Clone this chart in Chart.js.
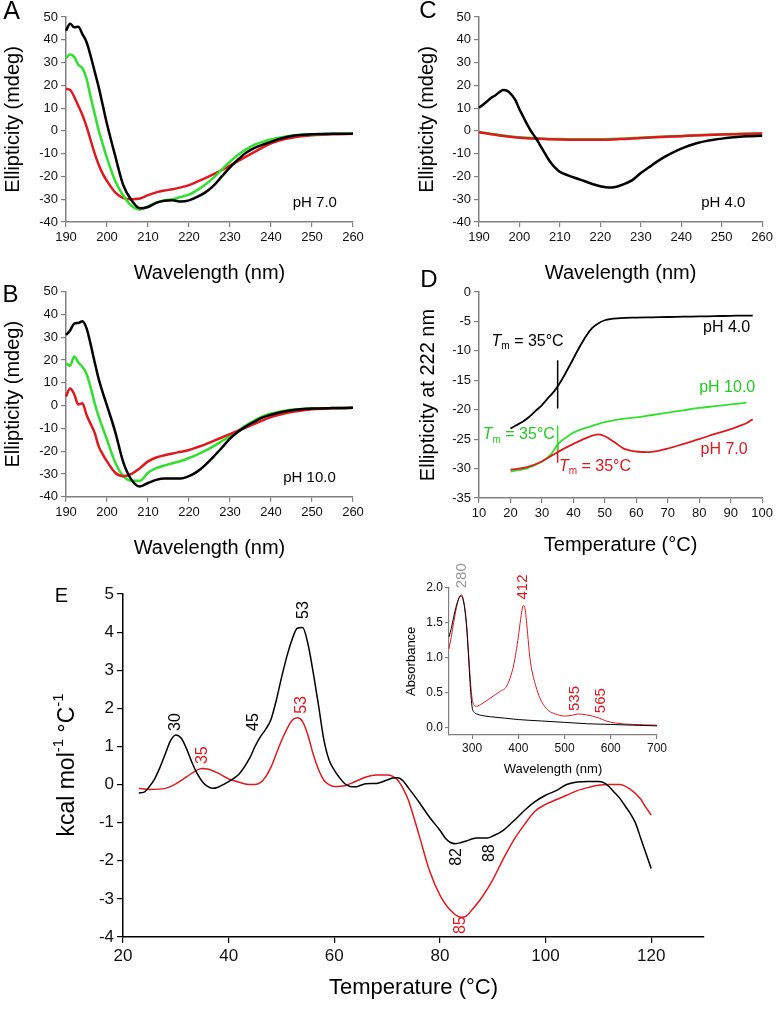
<!DOCTYPE html>
<html>
<head>
<meta charset="utf-8">
<script src="https://cdn.jsdelivr.net/npm/chart.js@4.4.1/dist/chart.umd.min.js"></script>
<style>
  body { margin: 0; background: #fff; }
  #wrap { position: relative; width: 776px; height: 1011px; overflow: hidden; }
  canvas { position: absolute; }
</style>
</head>
<body>
<div id="wrap">
  <canvas id="cA" width="375" height="285" style="left:0;top:0"></canvas>
  <canvas id="cB" width="375" height="295" style="left:0;top:265px"></canvas>
  <canvas id="cC" width="376" height="285" style="left:400px;top:0"></canvas>
  <canvas id="cD" width="376" height="292" style="left:400px;top:265px"></canvas>
  <canvas id="cE" width="776" height="441" style="left:0;top:560px"></canvas>
  <canvas id="cI" width="285" height="227" style="left:395px;top:550px"></canvas>
</div>
<script>
// ---- data ----
// CD spectra (panels A-C), wavelength in nm, ellipticity in mdeg
const wl = [190,191,192,193,194,195,196,197,198,199,200,202,204,206,208,210,212,214,216,218,220,222,224,226,228,230,232,234,236,238,240,242,245,250,255,260];
const aBlack = [44,47,45.5,45.7,42.5,39,33,26,19,11,3,-11,-24,-30.5,-34,-33.4,-31.6,-30.7,-30.5,-31,-30.5,-29,-27,-24,-20,-16,-12.5,-9.5,-7.5,-6,-4.8,-3.5,-2.2,-1.5,-1.3,-1.3];
const aGreen = [32,33.5,32.5,29,27.5,23,15,7.5,0,-6,-12,-22,-28.5,-33,-34.5,-33.2,-31.5,-30.5,-30,-29,-28,-26,-23.5,-20.5,-17,-13.5,-10.5,-8,-6,-4.8,-3.8,-3,-2.1,-1.5,-1.3,-1.2];
const aRed = [18.5,18,15,11,7,2,-4,-10,-15,-19,-22,-27,-29.5,-30,-29.7,-28.2,-27,-26.2,-25.6,-24.8,-23.8,-22.3,-20.7,-19,-17.2,-15.2,-13.2,-11.2,-9.2,-7.2,-5.5,-4.2,-3,-1.9,-1.5,-1.3];

const bBlack = [31,33,36,36.3,37,34,27,19,11.5,5.5,0,-11.5,-25,-32.6,-35.5,-34,-32.6,-32,-32,-32,-31,-29,-26,-22.4,-18.5,-14.5,-11.5,-9,-7,-5.2,-4,-3,-2,-1.3,-1.1,-1];
const bGreen = [18.5,17.5,21.5,19,17,14,8,1,-5,-10,-15,-25,-31,-33,-33,-29.5,-27.5,-26.3,-25.3,-24.3,-23,-21.5,-19.8,-17.8,-15.6,-13.5,-11,-8.6,-6.5,-4.8,-3.5,-2.7,-1.8,-1.3,-1.1,-1];
const bRed = [4,7.5,5,0.5,1,-4,-8,-12,-18,-21.5,-24.5,-29.5,-31,-30,-27.5,-24.5,-22.8,-21.8,-21,-20.3,-19.5,-18.3,-17,-15.5,-14,-12.5,-11,-9.5,-8,-6.5,-5,-4,-2.8,-1.6,-1.2,-1];

const wlC = [190,191,192,193,194,195,196,197,198,199,200,201,202,203,204,205,206,207,208,209,210,212,214,216,218,220,222,224,226,228,230,232,234,236,238,240,242,244,246,248,250,253,256,260];
const cBlack = [10.2,11.5,13,14.5,15.5,17,17.9,17.6,16,13.5,9.5,6,2.5,-0.5,-3,-6,-9,-12,-14.5,-16.5,-18,-19.5,-20.8,-22,-23.3,-24.3,-24.9,-24.5,-23.3,-21.5,-18.5,-16,-13.5,-11.3,-9.4,-7.8,-6.4,-5.3,-4.5,-3.9,-3.4,-2.8,-2.4,-2.1];
const wlC2 = [190,195,200,205,210,215,220,225,230,235,240,245,250,255,260];
const cGreen = [-0.5,-1.8,-2.8,-3.3,-3.6,-3.7,-3.7,-3.4,-3,-2.6,-2.2,-1.8,-1.5,-1.3,-1.1];
const cRed = [-0.6,-2,-3,-3.5,-3.8,-3.9,-3.9,-3.6,-3.1,-2.7,-2.3,-1.9,-1.6,-1.4,-1.2];

// thermal melts at 222 nm (panel D)
const tDBlack = [20,22,24,26,28,30,32,34,36,38,40,42,44,46,48,50,55,60,65,70,75,80,85,90,95,97];
const dBlack = [-23.2,-22.6,-22,-21.2,-20.2,-19.2,-18,-16.8,-15.2,-13.3,-11.3,-9.3,-7.5,-6.1,-5.3,-4.8,-4.45,-4.35,-4.3,-4.25,-4.2,-4.15,-4.1,-4.05,-4,-4];
const tDGreen = [20,25,30,33,35,38,40,45,50,55,60,65,70,75,80,85,90,95];
const dGreen = [-30.5,-30,-28.8,-27.5,-25.9,-24.6,-23.9,-22.9,-22.1,-21.6,-21.3,-20.9,-20.5,-20.1,-19.7,-19.4,-19.1,-18.8];
const tDRed = [20,25,30,35,40,45,48,50,53,56,60,64,70,75,80,85,90,93,95,97];
const dRed = [-30.2,-29.8,-28.8,-27.2,-25.8,-24.6,-24.2,-24.5,-25.5,-26.6,-27.1,-27.2,-26.6,-25.8,-25,-24.1,-23.3,-22.7,-22.3,-21.6];
const tmT = [35, 35];
const tmBlack = [-11.6, -19.8];
const tmGreen = [-22.7, -27];
const tmRed = [-25.9, -29];

// DSC (panel E), temperature in °C, kcal/mol/°C
const tEBlack = [23,24,25,26,27,28,29,30,31,32,33,34,35,36,37,38,39,40,42,44,45,46,47,48,49,50,51,52,53,54,55,56,57,58,59,60,61,62,63,64,65,66,68,70,71,72,73,74,76,78,80,81,82,83,84,85,86,87,88,89,90,92,94,96,98,100,102,104,106,108,110,111,112,113,114,115,116,117,118,119,120];
const eBlack = [-0.22,-0.2,-0.05,0.15,0.45,0.8,1.15,1.3,1.22,0.95,0.6,0.3,0.08,-0.05,-0.1,-0.07,0,0.08,0.28,0.7,1,1.25,1.45,1.7,2.2,2.8,3.35,3.8,4.1,4.12,3.7,2.95,2.1,1.2,0.65,0.38,0.18,0.02,-0.05,-0.06,-0.02,0.02,0.03,0.12,0.17,0.18,0.1,-0.08,-0.45,-0.85,-1.2,-1.4,-1.52,-1.55,-1.52,-1.48,-1.43,-1.4,-1.4,-1.4,-1.35,-1.2,-0.95,-0.68,-0.45,-0.28,-0.16,0,0.07,0.08,0.08,0.05,-0.05,-0.2,-0.35,-0.55,-0.75,-1,-1.4,-1.8,-2.2];
const tERed = [23,25,28,30,32,34,35,36,38,40,42,44,45,46,47,48,49,50,51,52,53,54,55,56,57,58,59,60,62,64,66,68,70,71,72,73,74,76,78,80,82,84,85,86,88,90,92,94,96,98,100,102,104,106,108,110,112,114,116,118,119,120];
const eRed = [-0.1,-0.13,-0.1,0.02,0.2,0.38,0.42,0.41,0.3,0.15,0.06,0,0,0.05,0.2,0.45,0.8,1.15,1.45,1.68,1.75,1.65,1.3,0.8,0.4,0.12,0,-0.05,-0.03,0.08,0.2,0.25,0.25,0.22,0.12,-0.1,-0.4,-1.3,-2.25,-2.9,-3.3,-3.48,-3.45,-3.3,-2.95,-2.5,-1.95,-1.45,-1.05,-0.7,-0.52,-0.4,-0.28,-0.16,-0.08,-0.02,0,0,-0.12,-0.38,-0.6,-0.8];

// absorbance inset
const iWlBlack = [250,255,260,265,270,274,277,280,284,288,292,296,300,305,310,320,340,370,400,450,500,550,600,650,700];
const iBlack = [1.3,1.42,1.58,1.72,1.83,1.88,1.88,1.84,1.7,1.45,1.05,0.6,0.3,0.22,0.2,0.18,0.16,0.14,0.12,0.1,0.08,0.06,0.05,0.04,0.03];
const iWlRed = [250,255,260,265,270,274,277,280,284,288,292,296,300,305,310,320,340,360,375,390,400,405,411,415,420,425,430,440,450,465,480,500,515,530,545,560,575,590,610,650,700];
const iRed = [1.13,1.3,1.5,1.68,1.82,1.88,1.9,1.86,1.72,1.48,1.1,0.7,0.42,0.32,0.31,0.34,0.43,0.52,0.6,0.9,1.3,1.55,1.75,1.68,1.35,1,0.8,0.55,0.38,0.25,0.2,0.17,0.18,0.2,0.19,0.17,0.14,0.1,0.07,0.05,0.04];

// tick labels
const wlTicks = [190,200,210,220,230,240,250,260];
const mdegTicks = [-40,-30,-20,-10,0,10,20,30,40,50];
const tempTicksD = [10,20,30,40,50,60,70,80,90,100];
const ellTicksD = [-35,-30,-25,-20,-15,-10,-5,0];
const tempTicksE = [20,40,60,80,100,120];
const cpTicksE = [-4,-3,-2,-1,0,1,2,3,4,5];
const wlTicksI = [300,400,500,600,700];
const absTicksI = [0,0.5,1,1.5,2];

// ---- styles ----
const FONT = '"Liberation Sans", Arial, sans-serif';
const BLACK = '#000000';
const GREEN = '#2fe02f';
const GREEN_TXT = '#22cc22';
const RED = '#e0191f';
const GRAY = '#808080';

// free text labels drawn on top of each chart
const notes = {};

function drawRich(ctx, n) {
  const size = n.size || 14;
  const parts = n.parts || [{ t: n.text }];
  const fontOf = p => (p.it ? 'italic ' : '') + ((p.sub || p.sup) ? Math.round(size * 0.65) : size) + 'px ' + FONT;
  let w = 0;
  parts.forEach(p => { ctx.font = fontOf(p); p._w = ctx.measureText(p.t).width; w += p._w; });
  let x = n.align === 'center' ? -w / 2 : n.align === 'right' ? -w : 0;
  ctx.fillStyle = n.color || '#000';
  ctx.textBaseline = 'middle';
  ctx.textAlign = 'left';
  parts.forEach(p => {
    ctx.font = fontOf(p);
    const dy = p.sub ? size * 0.3 : p.sup ? -size * 0.38 : 0;
    ctx.fillText(p.t, x, dy);
    x += p._w;
  });
}

Chart.register({
  id: 'notes',
  afterDraw(chart) {
    const items = notes[chart.canvas.id] || [];
    const ctx = chart.ctx;
    items.forEach(n => {
      const x = n.px ? n.x : chart.scales.x.getPixelForValue(n.x);
      const y = n.px ? n.y : chart.scales.y.getPixelForValue(n.y);
      ctx.save();
      ctx.translate(x, y);
      if (n.rot) ctx.rotate(n.rot * Math.PI / 180);
      drawRich(ctx, n);
      ctx.restore();
    });
  }
});

function line(xs, ys, color, width) {
  return {
    data: xs.map((x, i) => ({ x: x, y: ys[i] })),
    showLine: true,
    borderColor: color,
    backgroundColor: color,
    borderWidth: width,
    pointRadius: 0,
    cubicInterpolationMode: 'monotone',
    clip: false
  };
}

function axis(o) {
  return {
    type: 'linear',
    min: o.min,
    max: o.max,
    afterBuildTicks: s => { s.ticks = o.ticks.map(v => ({ value: v })); },
    afterFit: s => {
      if (o.w !== undefined) s.width = o.w;
      if (o.h !== undefined) s.height = o.h;
    },
    grid: { drawOnChartArea: false, tickLength: o.tl || 5, color: o.color, lineWidth: 1.2 },
    border: { display: true, color: o.color, width: o.bw || 1.5 },
    ticks: {
      color: '#111',
      padding: o.pad === undefined ? 3 : o.pad,
      font: { family: FONT, size: o.fs },
      maxRotation: 0,
      autoSkip: false,
      callback: o.fmt || (v => String(v))
    },
    title: o.title
      ? { display: true, text: o.title, color: '#000', font: { family: FONT, size: o.tfs }, padding: { top: o.tpad || 0, bottom: o.tpad || 0 } }
      : { display: false }
  };
}

function makeChart(id, datasets, xAxis, yAxis, pad) {
  return new Chart(document.getElementById(id), {
    type: 'scatter',
    data: { datasets: datasets },
    options: {
      responsive: false,
      animation: false,
      events: [],
      layout: { padding: pad },
      plugins: { legend: { display: false }, tooltip: { enabled: false } },
      scales: { x: xAxis, y: yAxis }
    }
  });
}

const tm = [{ t: 'T', it: true }, { t: 'm', sub: true }, { t: ' = 35°C' }];

// ---- panel A: pH 7.0 ----
notes.cA = [
  { px: true, x: 11.5, y: 12.5, text: 'A', size: 25, align: 'center' },
  { x: 250.7, y: -31.7, text: 'pH 7.0', size: 15, align: 'center' }
];
makeChart('cA',
  [line(wl, aBlack, BLACK, 2.5), line(wl, aGreen, GREEN, 2.5), line(wl, aRed, RED, 2.5)],
  axis({ min: 190, max: 260, ticks: wlTicks, color: GRAY, fs: 13, h: 63, title: 'Wavelength (nm)', tfs: 20 }),
  axis({ min: -40, max: 50, ticks: mdegTicks, color: GRAY, fs: 13, w: 66, title: 'Ellipticity (mdeg)', tfs: 20, tpad: 1 }),
  { left: 0, top: 17, right: 22, bottom: 0 });

// ---- panel B: pH 10.0 ----
notes.cB = [
  { px: true, x: 10.5, y: 30, text: 'B', size: 24, align: 'center' },
  { x: 249.4, y: -31.8, text: 'pH 10.0', size: 15, align: 'center' }
];
makeChart('cB',
  [line(wl, bBlack, BLACK, 2.5), line(wl, bRed, RED, 2.5), line(wl, bGreen, GREEN, 2.5)],
  axis({ min: 190, max: 260, ticks: wlTicks, color: GRAY, fs: 13, h: 63.3, title: 'Wavelength (nm)', tfs: 20 }),
  axis({ min: -40, max: 50, ticks: mdegTicks, color: GRAY, fs: 13, w: 66, title: 'Ellipticity (mdeg)', tfs: 20, tpad: 1 }),
  { left: 0, top: 26.7, right: 22, bottom: 0 });

// ---- panel C: pH 4.0 ----
notes.cC = [
  { px: true, x: 28, y: 11.5, text: 'C', size: 24, align: 'center' },
  { x: 250.4, y: -31.7, text: 'pH 4.0', size: 15, align: 'center' }
];
makeChart('cC',
  [line(wlC, cBlack, BLACK, 2.5), line(wlC2, cRed, RED, 2.5), line(wlC2, cGreen, GREEN, 2.5)],
  axis({ min: 190, max: 260, ticks: wlTicks, color: GRAY, fs: 13, h: 63, title: 'Wavelength (nm)', tfs: 20 }),
  axis({ min: -40, max: 50, ticks: mdegTicks, color: GRAY, fs: 13, w: 79, title: 'Ellipticity (mdeg)', tfs: 20, tpad: 15 }),
  { left: 0, top: 17, right: 10, bottom: 0 });

// ---- panel D: thermal melts ----
notes.cD = [
  { px: true, x: 29, y: 15, text: 'D', size: 24, align: 'center' },
  { x: 88.7, y: -6.1, text: 'pH 4.0', size: 16, align: 'center' },
  { x: 14.0, y: -8.4, parts: tm.map(p => Object.assign({}, p)), size: 16, align: 'left' },
  { x: 88.9, y: -16.3, text: 'pH 10.0', size: 16, align: 'center', color: GREEN_TXT },
  { x: 11.2, y: -24.3, parts: tm.map(p => Object.assign({}, p)), size: 16, align: 'left', color: GREEN_TXT },
  { x: 87.9, y: -26.7, text: 'pH 7.0', size: 16, align: 'center', color: RED },
  { x: 35.4, y: -29.6, parts: tm.map(p => Object.assign({}, p)), size: 16, align: 'left', color: RED }
];
makeChart('cD',
  [
    line(tDBlack, dBlack, BLACK, 1.8),
    line(tDRed, dRed, RED, 1.8),
    line(tDGreen, dGreen, GREEN, 1.8),
    line(tmT, tmBlack, BLACK, 1.5),
    line(tmT, tmGreen, GREEN, 1.5),
    line(tmT, tmRed, RED, 1.5)
  ],
  axis({ min: 10, max: 100, ticks: tempTicksD, color: GRAY, fs: 13, h: 59, title: 'Temperature (°C)', tfs: 20 }),
  axis({ min: -35, max: 0, ticks: ellTicksD, color: GRAY, fs: 13, w: 79, title: 'Ellipticity at 222 nm', tfs: 20, tpad: 16 }),
  { left: 0, top: 27, right: 10, bottom: 0 });

// ---- panel E: DSC ----
notes.cE = [
  { px: true, x: 61.5, y: 36, text: 'E', size: 20, align: 'center' },
  { px: true, x: 68, y: 205, rot: -90, align: 'center', size: 23,
    parts: [{ t: 'kcal mol' }, { t: '-1', sup: true }, { t: ' °C' }, { t: '-1', sup: true }] },
  { x: 30, y: 1.64, text: '30', size: 16, rot: -90, align: 'center' },
  { x: 44.8, y: 1.64, text: '45', size: 16, rot: -90, align: 'center' },
  { x: 54.2, y: 4.58, text: '53', size: 16, rot: -90, align: 'center' },
  { x: 35.1, y: 0.77, text: '35', size: 16, rot: -90, align: 'center', color: RED },
  { x: 53.9, y: 2.09, text: '53', size: 16, rot: -90, align: 'center', color: RED },
  { x: 83.1, y: -1.9, text: '82', size: 16, rot: -90, align: 'center' },
  { x: 89.4, y: -1.8, text: '88', size: 16, rot: -90, align: 'center' },
  { x: 84.0, y: -3.69, text: '85', size: 16, rot: -90, align: 'center', color: RED }
];
makeChart('cE',
  [line(tEBlack, eBlack, BLACK, 1.5), line(tERed, eRed, RED, 1.5)],
  axis({ min: 20, max: 130, ticks: tempTicksE, color: BLACK, fs: 17, h: 64, tl: 6, title: 'Temperature (°C)', tfs: 22 }),
  axis({ min: -4, max: 5, ticks: cpTicksE, color: BLACK, fs: 17, w: 123, tl: 6 }),
  { left: 0, top: 34, right: 72, bottom: 0 });

// ---- inset: absorbance spectra ----
notes.cI = [
  { x: 278.8, y: 2.17, text: '280', size: 15, rot: -90, align: 'center', color: '#999999' },
  { x: 410.8, y: 2.01, text: '412', size: 15, rot: -90, align: 'center', color: RED },
  { x: 522.7, y: 0.42, text: '535', size: 15, rot: -90, align: 'center', color: RED },
  { x: 578, y: 0.39, text: '565', size: 15, rot: -90, align: 'center', color: RED }
];
makeChart('cI',
  [line(iWlBlack, iBlack, BLACK, 1), line(iWlRed, iRed, RED, 1)],
  axis({ min: 250, max: 700, ticks: wlTicksI, color: GRAY, fs: 12, h: 42, tl: 4, pad: 2, bw: 1.2, title: 'Wavelength (nm)', tfs: 13 }),
  axis({ min: -0.1, max: 2, ticks: absTicksI, color: GRAY, fs: 12, w: 54, tl: 4, pad: 2, bw: 1.2, fmt: v => v.toFixed(1), title: 'Absorbance', tfs: 13, tpad: 9 }),
  { left: 0, top: 37.7, right: 23, bottom: 0 });
</script>
</body>
</html>
